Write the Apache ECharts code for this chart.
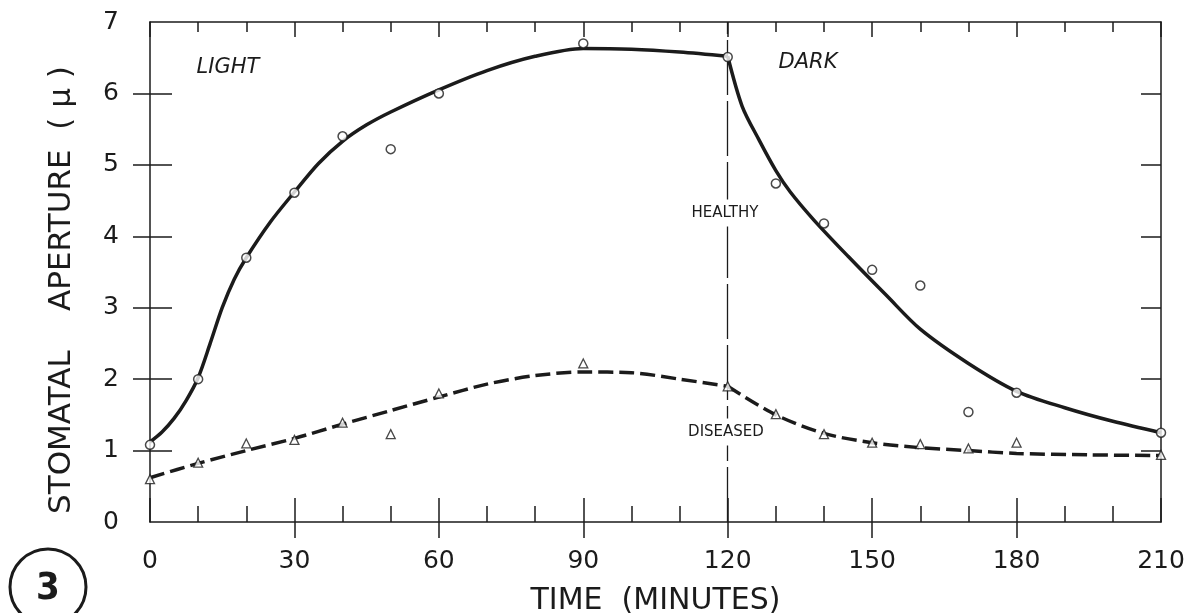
<!DOCTYPE html>
<html>
<head>
<meta charset="utf-8">
<title>Stomatal aperture</title>
<script src="https://cdn.jsdelivr.net/npm/echarts@6.0.0/dist/echarts.min.js"></script>
<style>
  html, body { margin: 0; padding: 0; background: #fff; }
  #chart { width: 1190px; height: 613px; }
</style>
</head>
<body>
<div id="chart"></div>
<script>
// measured points (minutes / aperture in micron)
var pointTimes = [0, 10, 20, 30, 40, 50, 60, 90, 120, 130, 140, 150, 160, 170, 180, 210];
var healthyPoints = [1.08, 2.0, 3.7, 4.61, 5.4, 5.22, 6.0, 6.7, 6.51, 4.74, 4.18, 3.53, 3.31, 1.54, 1.81, 1.25];
var diseasedPoints = [0.60, 0.83, 1.10, 1.15, 1.39, 1.23, 1.80, 2.22, 1.90, 1.51, 1.23, 1.11, 1.09, 1.03, 1.11, 0.94];

// fitted curves
var healthyLightTimes = [0, 2.5, 5, 7.5, 10, 12.5, 15, 17.5, 20, 25, 30, 35, 40, 45, 50, 60, 70, 80, 90, 100, 110, 120];
var healthyLightFit = [1.12, 1.26, 1.45, 1.7, 2.02, 2.5, 3.0, 3.4, 3.7, 4.2, 4.62, 5.02, 5.33, 5.56, 5.74, 6.05, 6.32, 6.52, 6.63, 6.62, 6.58, 6.52];
var healthyDarkTimes = [120, 123, 126.5, 130, 133, 138, 145, 153, 160, 170, 180, 190, 200, 210];
var healthyDarkFit = [6.52, 5.82, 5.35, 4.92, 4.62, 4.22, 3.72, 3.17, 2.7, 2.22, 1.83, 1.6, 1.41, 1.25];
var diseasedLightTimes = [0, 10, 20, 30, 40, 50, 60, 70, 80, 90, 100, 110, 120];
var diseasedLightFit = [0.62, 0.82, 1.0, 1.17, 1.37, 1.56, 1.75, 1.93, 2.05, 2.1, 2.09, 2.0, 1.9];
var diseasedDarkTimes = [120, 130, 140, 150, 160, 170, 180, 195, 210];
var diseasedDarkFit = [1.9, 1.5, 1.24, 1.11, 1.04, 1.0, 0.96, 0.94, 0.93];

var xMajor = [30, 60, 90, 120, 150, 180];
var yMajor = [1, 2, 3, 4, 5, 6];
var switchTime = 120;

var ink = '#1b1b1b';
var font = 'DejaVu Sans';
var tickStyle = { color: ink, width: 1.5 };

function pairs(xs, ys) {
  return xs.map(function (x, i) { return [x, ys[i]]; });
}

var chart = echarts.init(document.getElementById('chart'));

var lineBase = {
  type: 'line',
  smooth: 0.3,
  showSymbol: false,
  symbol: 'none',
  clip: false,
  silent: true,
  z: 3
};

var gridBox = { left: 150, right: 29, top: 22, bottom: 91, outerBoundsMode: 'none', containLabel: false };

var option = {
  backgroundColor: '#fff',
  animation: false,
  // second grid on top of the first one only carries the outward halves of the crossing ticks
  grid: [Object.assign({}, gridBox), Object.assign({}, gridBox)],
  xAxis: [
    {
      gridIndex: 0, type: 'value', position: 'bottom', min: 0, max: 210, interval: 30,
      axisLine: { onZero: false, lineStyle: tickStyle },
      axisTick: { inside: true, length: 24, lineStyle: tickStyle },
      minorTick: { show: true, splitNumber: 3, length: 16, lineStyle: tickStyle },
      splitLine: { show: false },
      axisLabel: { color: ink, fontSize: 25, fontFamily: font, margin: 27 },
      name: 'TIME  (MINUTES)',
      nameLocation: 'middle',
      nameGap: 64,
      nameTextStyle: { color: ink, fontSize: 30, fontFamily: font }
    },
    {
      gridIndex: 0, type: 'value', position: 'top', min: 0, max: 210, interval: 30,
      axisLine: { onZero: false, lineStyle: tickStyle },
      axisTick: { inside: true, length: 15, lineStyle: tickStyle },
      minorTick: { show: true, splitNumber: 3, length: 10, lineStyle: tickStyle },
      axisLabel: { show: false },
      splitLine: { show: false }
    },
    {
      gridIndex: 1, type: 'value', position: 'bottom', min: 0, max: 210, interval: 30,
      axisLine: { show: false, onZero: false },
      axisTick: { inside: false, length: 16, customValues: xMajor, lineStyle: tickStyle },
      axisLabel: { show: false },
      splitLine: { show: false }
    }
  ],
  yAxis: [
    {
      gridIndex: 0, type: 'value', position: 'left', min: 0, max: 7, interval: 1,
      axisLine: { onZero: false, lineStyle: tickStyle },
      axisTick: { inside: true, length: 22, customValues: yMajor, lineStyle: tickStyle },
      axisLabel: { color: ink, fontSize: 25, fontFamily: font, margin: 31 },
      splitLine: { show: false }
    },
    {
      gridIndex: 0, type: 'value', position: 'right', min: 0, max: 7, interval: 1,
      axisLine: { onZero: false, lineStyle: tickStyle },
      axisTick: { inside: true, length: 20, customValues: yMajor, lineStyle: tickStyle },
      axisLabel: { show: false },
      splitLine: { show: false }
    },
    {
      gridIndex: 1, type: 'value', position: 'left', min: 0, max: 7, interval: 1,
      axisLine: { show: false, onZero: false },
      axisTick: { inside: false, length: 17, customValues: yMajor, lineStyle: tickStyle },
      axisLabel: { show: false },
      splitLine: { show: false }
    }
  ],
  series: [
    Object.assign({}, lineBase, {
      name: 'Healthy light',
      data: pairs(healthyLightTimes, healthyLightFit),
      lineStyle: { color: ink, width: 3.5 },
      markLine: {
        silent: true,
        symbol: 'none',
        label: { show: false },
        lineStyle: { color: ink, width: 1.3, type: [55, 6] },
        data: [{ xAxis: switchTime }]
      }
    }),
    Object.assign({}, lineBase, {
      name: 'Healthy dark',
      data: pairs(healthyDarkTimes, healthyDarkFit),
      lineStyle: { color: ink, width: 3.5 }
    }),
    Object.assign({}, lineBase, {
      name: 'Diseased light',
      data: pairs(diseasedLightTimes, diseasedLightFit),
      lineStyle: { color: ink, width: 3.5, type: [15, 6] }
    }),
    Object.assign({}, lineBase, {
      name: 'Diseased dark',
      data: pairs(diseasedDarkTimes, diseasedDarkFit),
      lineStyle: { color: ink, width: 3.5, type: [15, 6] }
    }),
    {
      name: 'Healthy',
      type: 'scatter',
      symbol: 'circle',
      symbolSize: 9,
      z: 5,
      itemStyle: { color: '#fff', borderColor: ink, borderWidth: 1.5 },
      data: pairs(pointTimes, healthyPoints)
    },
    {
      name: 'Diseased',
      type: 'scatter',
      symbol: 'triangle',
      symbolSize: 9,
      z: 5,
      itemStyle: { color: '#fff', borderColor: ink, borderWidth: 1.3 },
      data: pairs(pointTimes, diseasedPoints)
    }
  ],
  graphic: [
    {
      type: 'text', x: 62, y: 290, rotation: Math.PI / 2, z: 10,
      style: { text: 'STOMATAL    APERTURE  ( μ )', fill: ink, font: '31px ' + font, align: 'center', verticalAlign: 'middle' }
    },
    {
      type: 'text', x: 228, y: 68, z: 10,
      style: { text: 'LIGHT', fill: ink, font: 'italic 21px ' + font, align: 'center', verticalAlign: 'middle' }
    },
    {
      type: 'text', x: 808, y: 63, z: 10,
      style: { text: 'DARK', fill: ink, font: 'italic 21px ' + font, align: 'center', verticalAlign: 'middle' }
    },
    {
      type: 'text', x: 725, y: 213, z: 10,
      style: { text: 'HEALTHY', fill: ink, font: '15px ' + font, align: 'center', verticalAlign: 'middle',
               backgroundColor: '#fff', padding: [6, 3] }
    },
    {
      type: 'text', x: 726, y: 432, z: 10,
      style: { text: 'DISEASED', fill: ink, font: '15px ' + font, align: 'center', verticalAlign: 'middle',
               backgroundColor: '#fff', padding: [6, 3] }
    },
    {
      type: 'circle', z: 10,
      shape: { cx: 48, cy: 587, r: 38 },
      style: { fill: 'none', stroke: ink, lineWidth: 3 }
    },
    {
      type: 'text', x: 48, y: 589, z: 10,
      style: { text: '3', fill: ink, font: 'bold 38px "DejaVu Sans Condensed", "DejaVu Sans"', align: 'center', verticalAlign: 'middle' }
    }
  ]
};

chart.setOption(option);
</script>
</body>
</html>
